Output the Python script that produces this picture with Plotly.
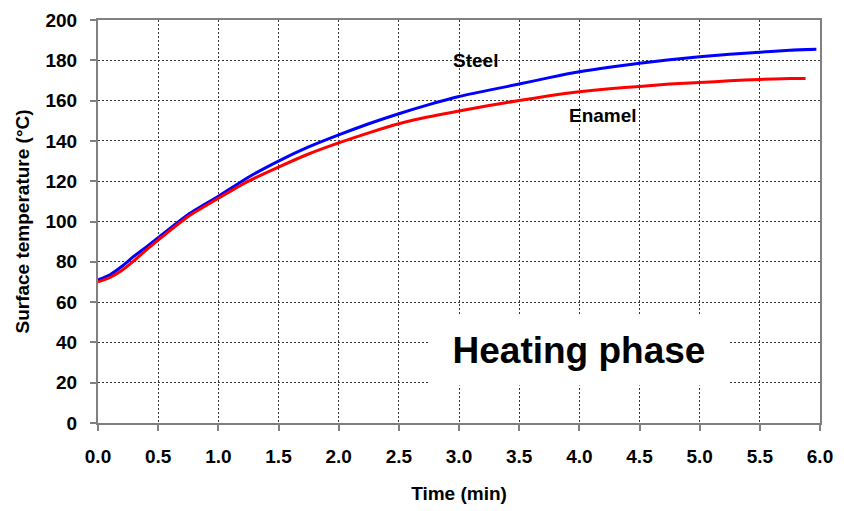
import plotly.graph_objects as go

# Time (min)
steel_time = [0.0, 0.1, 0.2, 0.3, 0.4, 0.5, 0.75, 1.0, 1.25, 1.5, 1.75, 2.0, 2.25, 2.5, 2.75,
              3.0, 3.25, 3.5, 3.75, 4.0, 4.25, 4.5, 4.75, 5.0, 5.25, 5.5, 5.75, 5.97]
steel_temp = [71.0, 73.6, 77.8, 82.8, 87.3, 92.0, 103.5, 112.5, 122.0, 130.0, 137.0, 143.0, 148.5, 153.5, 158.0,
              162.0, 165.2, 168.2, 171.4, 174.3, 176.6, 178.5, 180.3, 181.8, 183.0, 184.0, 185.0, 185.5]

enamel_time = [0.0, 0.1, 0.2, 0.3, 0.4, 0.5, 0.75, 1.0, 1.25, 1.5, 1.75, 2.0, 2.25, 2.5, 2.75,
               3.0, 3.25, 3.5, 3.75, 4.0, 4.25, 4.5, 4.75, 5.0, 5.25, 5.5, 5.75, 5.88]
enamel_temp = [70.0, 72.2, 75.8, 80.6, 85.8, 90.8, 102.5, 111.5, 120.0, 127.0, 133.5, 139.0, 144.0, 148.5, 152.0,
               154.8, 157.6, 160.0, 162.4, 164.4, 165.9, 167.0, 168.2, 169.0, 169.8, 170.5, 171.0, 171.0]

x_ticks = [0.0, 0.5, 1.0, 1.5, 2.0, 2.5, 3.0, 3.5, 4.0, 4.5, 5.0, 5.5, 6.0]
x_tick_labels = ["0.0", "0.5", "1.0", "1.5", "2.0", "2.5", "3.0", "3.5", "4.0", "4.5", "5.0", "5.5", "6.0"]
y_ticks = [0, 20, 40, 60, 80, 100, 120, 140, 160, 180, 200]

FONT = "Liberation Sans, Arial, sans-serif"

fig = go.Figure()
fig.add_trace(go.Scatter(x=steel_time, y=steel_temp, mode="lines", name="Steel",
                         line=dict(color="#0000FF", width=3, shape="spline", smoothing=0.6)))
fig.add_trace(go.Scatter(x=enamel_time, y=enamel_temp, mode="lines", name="Enamel",
                         line=dict(color="#FF0000", width=3, shape="spline", smoothing=0.6)))

axis_common = dict(
    showline=True, linecolor="#808080", linewidth=2, mirror=True,
    showgrid=True, gridcolor="#333333", gridwidth=1, griddash="2px,2px",
    ticks="outside", tickcolor="#808080", tickwidth=2, ticklen=6,
    zeroline=False, automargin=False,
    tickfont=dict(family=FONT, size=19, color="black", weight="bold"),
)

fig.update_xaxes(range=[0, 6], tickvals=x_ticks, ticktext=x_tick_labels,
                 ticklabelstandoff=9,
                 title=dict(text="<b>Time (min)</b>", font=dict(family=FONT, size=19, color="black"),
                            standoff=21),
                 **axis_common)
fig.update_yaxes(range=[0, 200], tickvals=y_ticks, ticklabelstandoff=9,
                 title=dict(text="<b>Surface temperature (°C)</b>", font=dict(family=FONT, size=19, color="black"),
                            standoff=11),
                 **axis_common)

fig.add_annotation(x=3.14, y=180, text="<b>Steel</b>", showarrow=False,
                   font=dict(family=FONT, size=19, color="black"))
fig.add_annotation(x=4.2, y=152.5, text="<b>Enamel</b>", showarrow=False,
                   font=dict(family=FONT, size=19, color="black"))
fig.add_annotation(x=4.0, y=36.2, text="<b>Heating phase</b>", showarrow=False,
                   bgcolor="white", width=296, height=67,
                   font=dict(family=FONT, size=37, color="black"))

fig.update_layout(
    width=844, height=511,
    margin=dict(l=98, r=24, t=20, b=88),
    paper_bgcolor="white", plot_bgcolor="white",
    showlegend=False,
)

fig.write_html("out.html", config={"displayModeBar": False},
               post_script="document.body.style.margin='0';document.body.style.overflow='hidden';")
